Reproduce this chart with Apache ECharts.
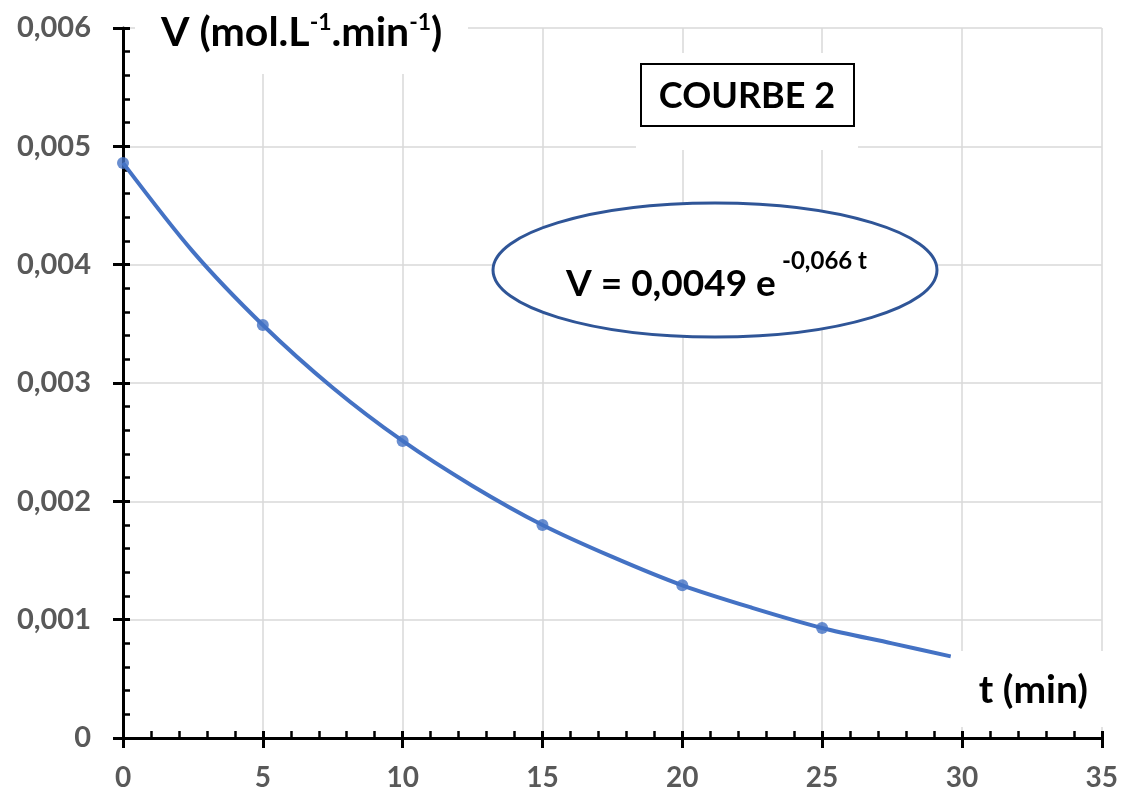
<!DOCTYPE html>
<html>
<head>
<meta charset="utf-8">
<script src="https://cdn.jsdelivr.net/npm/echarts@6/dist/echarts.min.js"></script>
<style>
html,body{margin:0;padding:0;background:#fff;}
#chart{width:1121px;height:795px;}
</style>
</head>
<body>
<div id="chart"></div>
<script>
// Measured points
const tValues = [0, 5, 10, 15, 20, 25];
const vValues = [0.00486, 0.00349, 0.00251, 0.00180, 0.00129, 0.00093];
// Trend curve (exponential fit drawn by spreadsheet)
const trendT = [0, 2.5, 5, 7.5, 10, 12.5, 15, 17.5, 20, 22.5, 25, 27.5, 29.6];
const trendV = [0.00486, 0.00411, 0.00349, 0.00296, 0.00251, 0.00213, 0.00180, 0.00153, 0.00129, 0.00110, 0.00093, 0.00080, 0.00069];
// Axis ranges / ticks
const xTicks = { min: 0, max: 35, interval: 5 };
const yTicks = { min: 0, max: 0.006, interval: 0.001 };
const texts = {
  xTitle: 't (min)',
  box: 'COURBE 2',
  eq: 'V = 0,0049 e',
  eqExp: '-0,066 t'
};

const FONT = 'Lato';
const GREY = '#595959';
const LINE = '#4472C4';

const chart = echarts.init(document.getElementById('chart'), null, {renderer: 'canvas'});

function yFmt(v) {
  if (v === 0) return '0';
  return v.toFixed(3).replace('.', ',');
}

const option = {
  backgroundColor: '#ffffff',
  animation: false,
  grid: { left: 123, right: 19, top: 28, bottom: 57 },
  xAxis: [
    {
      type: 'value', min: xTicks.min, max: xTicks.max, interval: xTicks.interval,
      position: 'bottom',
      axisLine: { show: true, onZero: false, lineStyle: { color: '#000', width: 3 } },
      axisTick: { show: true, inside: false, length: 10, lineStyle: { color: '#000', width: 3 } },
      axisLabel: { color: GREY, fontFamily: FONT, fontWeight: 'bold', fontSize: 28, margin: 26 },
      splitLine: { show: true, lineStyle: { color: '#d9d9d9', width: 1.5 } }
    },
    {
      type: 'value', min: xTicks.min, max: xTicks.max, interval: xTicks.interval,
      position: 'bottom',
      axisLine: { show: false, onZero: false },
      axisTick: { show: true, inside: true, length: 7, lineStyle: { color: '#000', width: 3 } },
      minorTick: { show: true, splitNumber: 5, length: 7, lineStyle: { color: '#000', width: 2.5 } },
      axisLabel: { show: false },
      splitLine: { show: false }
    }
  ],
  yAxis: [
    {
      type: 'value', min: yTicks.min, max: yTicks.max, interval: yTicks.interval,
      position: 'left',
      axisLine: { show: true, onZero: false, lineStyle: { color: '#000', width: 3 } },
      axisTick: { show: true, inside: false, length: 10, lineStyle: { color: '#000', width: 3 } },
      axisLabel: { color: GREY, fontFamily: FONT, fontWeight: 'bold', fontSize: 29, margin: 32, formatter: yFmt },
      splitLine: { show: true, lineStyle: { color: '#d9d9d9', width: 1.5 } }
    },
    {
      type: 'value', min: yTicks.min, max: yTicks.max, interval: yTicks.interval,
      position: 'left',
      axisLine: { show: false, onZero: false },
      axisTick: { show: true, inside: true, length: 7, lineStyle: { color: '#000', width: 3 } },
      minorTick: { show: true, splitNumber: 5, length: 7, lineStyle: { color: '#000', width: 2.5 } },
      axisLabel: { show: false },
      splitLine: { show: false }
    }
  ],
  series: [
    {
      name: 'trend', type: 'line', xAxisIndex: 0, yAxisIndex: 0,
      data: trendT.map((t, i) => [t, trendV[i]]),
      smooth: 0.3, showSymbol: false, symbol: 'none',
      lineStyle: { color: LINE, width: 4 }, z: 3
    },
    {
      name: 'V', type: 'scatter', xAxisIndex: 0, yAxisIndex: 0,
      data: tValues.map((t, i) => [t, vValues[i]]),
      symbol: 'circle', symbolSize: 12,
      itemStyle: { color: LINE }, z: 4
    }
  ],
  graphic: [
    // white covers behind the annotations
    { type: 'rect', z: 50, shape: { x: 135, y: 0, width: 333, height: 74 }, style: { fill: '#fff' } },
    { type: 'rect', z: 50, shape: { x: 636, y: 53, width: 222, height: 97 }, style: { fill: '#fff' } },
    { type: 'rect', z: 50, shape: { x: 951, y: 651, width: 170, height: 76 }, style: { fill: '#fff' } },
    // box
    { type: 'rect', z: 51, shape: { x: 641, y: 64, width: 213, height: 62 }, style: { fill: '#fff', stroke: '#000', lineWidth: 2 } },
    { type: 'text', z: 52, x: 747, y: 96, style: { text: texts.box, fontFamily: FONT, fontWeight: 'bold', fontSize: 36, fill: '#000', align: 'center', verticalAlign: 'middle' } },
    // ellipse
    { type: 'ellipse', z: 51, shape: { cx: 715, cy: 270, rx: 222, ry: 67 }, style: { fill: '#fff', stroke: '#2F5597', lineWidth: 3 } },
    { type: 'text', z: 52, x: 566, y: 284, style: { text: texts.eq, fontFamily: FONT, fontWeight: 'bold', fontSize: 37, fill: '#000', align: 'left', verticalAlign: 'middle' } },
    { type: 'text', z: 52, x: 782, y: 261, style: { text: texts.eqExp, fontFamily: FONT, fontWeight: 'bold', fontSize: 24, fill: '#000', align: 'left', verticalAlign: 'middle' } },
    // y axis title
    { type: 'text', z: 52, x: 161, y: 2, style: {
        text: '{m|V (mol.L}{s|-1}{m|.min}{s|-1}{m|)}',
        rich: {
          m: { fontFamily: FONT, fontWeight: 'bold', fontSize: 41, fill: '#000', lineHeight: 62, verticalAlign: 'middle' },
          s: { fontFamily: FONT, fontWeight: 'bold', fontSize: 23, fill: '#000', lineHeight: 62, verticalAlign: 'middle', padding: [0, 0, 20, 0] }
        },
        align: 'left', verticalAlign: 'top'
      } },
    // x axis title
    { type: 'text', z: 52, x: 1088, y: 690, style: { text: texts.xTitle, fontFamily: FONT, fontWeight: 'bold', fontSize: 39, fill: '#000', align: 'right', verticalAlign: 'middle' } }
  ]
};
chart.setOption(option);
</script>
</body>
</html>
